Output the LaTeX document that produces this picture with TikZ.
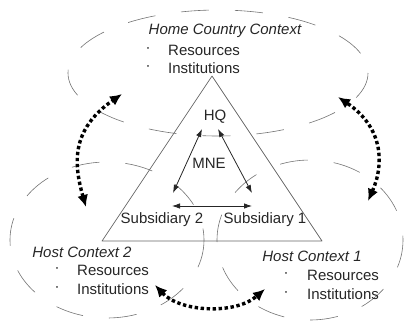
\documentclass[tikz,border=0pt]{standalone}
\usepackage{fontspec}
\setmainfont{Liberation Sans}
\usetikzlibrary{arrows.meta}
\begin{document}
\begin{tikzpicture}[x=1pt, y=-1pt, line join=round, font=\fontsize{15}{18}\selectfont,
    ctx/.style={draw=black!55, line width=0.6pt, dash pattern=on 28pt off 26pt},
    lbl/.style={inner sep=0pt, text=black!85},
    item/.style={lbl, anchor=west},
    link/.style={draw=black!85, line width=0.8pt, {Latex[length=8pt,width=5.5pt]}-{Latex[length=8pt,width=5.5pt]}},
    flow/.style={line width=3.4pt, dash pattern=on 3.4pt off 2.6pt, {Latex[length=12pt,width=11pt]}-{Latex[length=12pt,width=11pt]}}]
    \useasboundingbox (0,0) rectangle (407,322);
    % ba boi canh
    \draw[ctx] (218,73) ellipse [x radius=150, y radius=63];
    \draw[ctx] (107,240) ellipse [x radius=97, y radius=78];
    \draw[ctx] (310,240) ellipse [x radius=93, y radius=80];
    % tam giac MNE
    \draw[black!60, line width=0.7pt] (212,76) -- (102,241) -- (322,241) -- cycle;
    \node[lbl] (hq) at (215,117) {HQ};
    \node[lbl] (mne) at (209,163) {MNE};
    \node[lbl] (sub2) at (162,220) {Subsidiary 2};
    \node[lbl] (sub1) at (265,220) {Subsidiary 1};
    \coordinate (hqL) at (202,129); \coordinate (hqR) at (218,129);
    \coordinate (subL) at (173,193); \coordinate (subR) at (252,193);
    \coordinate (barL) at (172,206); \coordinate (barR) at (252,206);
    \draw[link] (hqL) -- (subL);
    \draw[link] (hqR) -- (subR);
    \draw[link] (barL) -- (barR);
    % nhan
    \node[lbl, font=\fontsize{15}{18}\selectfont\itshape] (home) at (225,31) {Home Country Context};
    \node[lbl] (homeb1) at (148,50) {·}; \node[item] (homeres) at (168,50) {Resources};
    \node[lbl] (homeb2) at (148,68) {·}; \node[item] (homeinst) at (168,68) {Institutions};
    \node[lbl, font=\fontsize{15}{18}\selectfont\itshape] (host2) at (82,252) {Host Context 2};
    \node[lbl] (hostb1) at (57,270) {·}; \node[item] (host2res) at (77,270) {Resources};
    \node[lbl] (hostb2) at (57,289) {·}; \node[item] (host2inst) at (77,289) {Institutions};
    \node[lbl, font=\fontsize{15}{18}\selectfont\itshape] (host1) at (312,256) {Host Context 1};
    \node[lbl] (hostb3) at (286,275) {·}; \node[item] (host1res) at (307,275) {Resources};
    \node[lbl] (hostb4) at (286,294) {·}; \node[item] (host1inst) at (307,294) {Institutions};
    % mui ten cham
    \coordinate (lftA) at (86,207); \coordinate (lftB) at (122,94);
    \coordinate (rgtA) at (368,201); \coordinate (rgtB) at (338,97);
    \coordinate (btmA) at (155,285); \coordinate (btmB) at (265,289);
    \draw[flow] (lftA) .. controls (74,165) and (70,130) .. (lftB);
    \draw[flow] (rgtA) .. controls (384,165) and (384,128) .. (rgtB);
    \draw[flow] (btmA) .. controls (180,312) and (235,315) .. (btmB);
\end{tikzpicture}
\end{document}
